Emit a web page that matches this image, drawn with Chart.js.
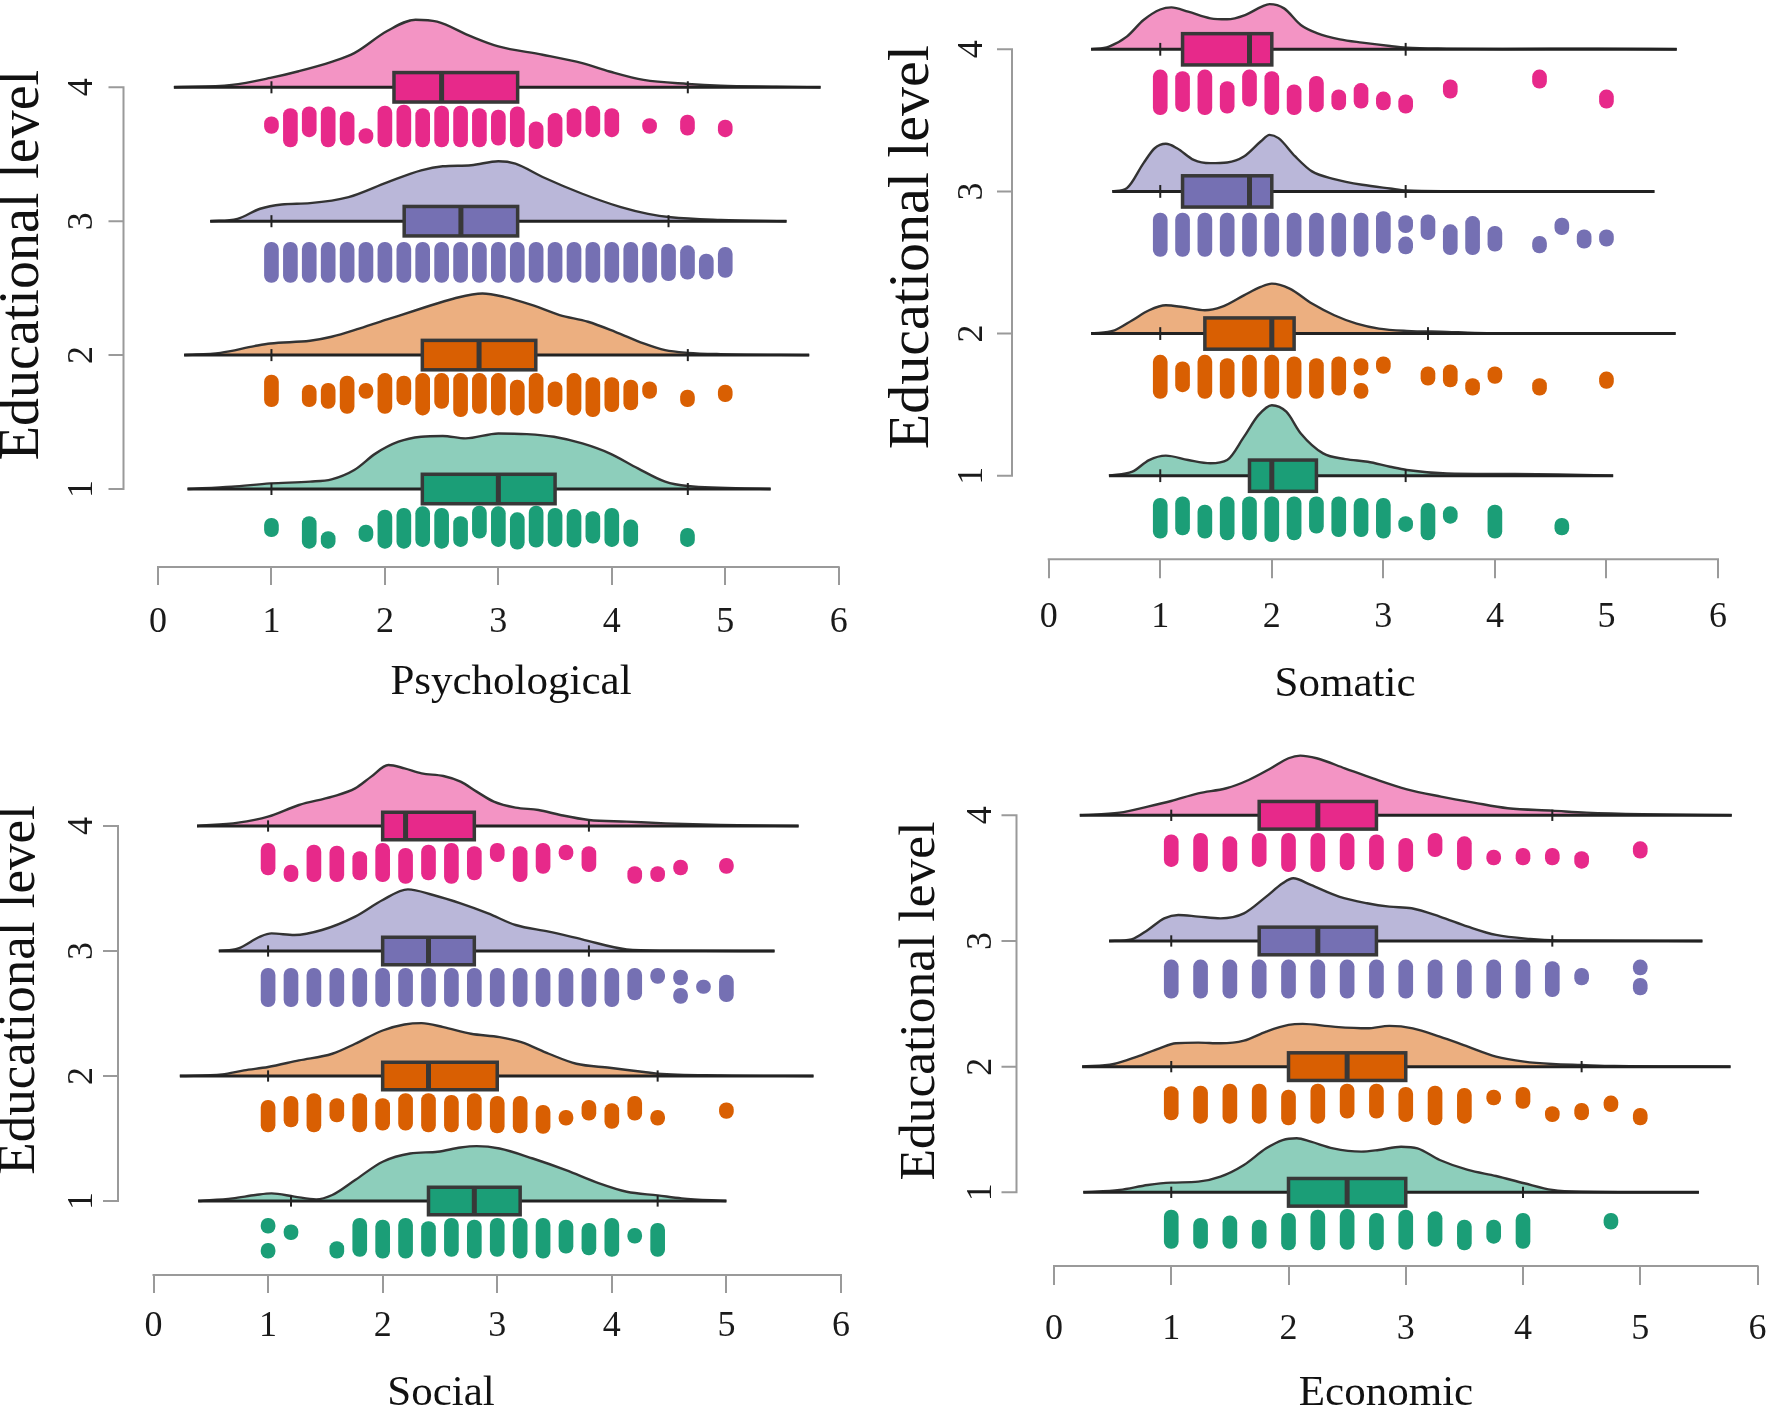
<!DOCTYPE html>
<html><head><meta charset="utf-8">
<script src="https://cdn.jsdelivr.net/npm/chart.js@4.4.1/dist/chart.umd.min.js"></script>
<style>
html,body{margin:0;padding:0;background:#fff;width:1770px;height:1417px;overflow:hidden;position:relative;}
canvas{position:absolute;left:-100px;top:-100px;pointer-events:none;}
</style></head><body>
<canvas id="c0" width="1970" height="1617"></canvas>
<canvas id="c1" width="1970" height="1617"></canvas>
<canvas id="c2" width="1970" height="1617"></canvas>
<canvas id="c3" width="1970" height="1617"></canvas>
<script>
// ---------------- DATA ----------------
const levels = [1, 2, 3, 4];
const xTickValues = [0, 1, 2, 3, 4, 5, 6];
const panelTitles = ['Psychological', 'Somatic', 'Social', 'Economic'];
const yTitle = 'Educational level';

// density curves: x positions and heights above the level baseline (level units), per level 1..4
const psychDensX = [
  [0.26,0.65,0.99,1.34,1.53,1.73,1.92,2.12,2.32,2.51,2.71,3.0,3.25,3.49,3.74,3.98,4.23,4.47,4.67,5.40],
  [0.23,0.55,0.85,0.99,1.34,1.53,1.78,2.02,2.32,2.61,2.86,3.05,3.30,3.54,3.79,4.03,4.28,4.47,4.67,4.96,5.74],
  [0.46,0.70,0.90,1.09,1.34,1.68,2.02,2.32,2.51,2.76,3.0,3.15,3.39,3.74,4.08,4.32,4.52,4.96,5.54],
  [0.14,0.65,0.99,1.24,1.53,1.73,2.02,2.27,2.46,2.76,3.0,3.39,3.74,3.98,4.28,4.67,4.96,5.45,5.84]
];
const psychDensH = [
  [0,0.017,0.042,0.055,0.072,0.142,0.266,0.353,0.39,0.396,0.378,0.415,0.41,0.39,0.34,0.266,0.154,0.055,0.022,0],
  [0,0.017,0.067,0.087,0.107,0.137,0.2,0.266,0.348,0.423,0.46,0.435,0.373,0.299,0.249,0.174,0.087,0.037,0.017,0.007,0],
  [0,0.018,0.093,0.125,0.135,0.18,0.29,0.38,0.41,0.418,0.448,0.43,0.33,0.205,0.105,0.055,0.03,0.01,0],
  [0,0.018,0.07,0.12,0.19,0.255,0.42,0.505,0.49,0.38,0.305,0.243,0.18,0.118,0.055,0.025,0.012,0.005,0]
];
// box stats: [lower whisker, Q1, median, Q3, upper whisker]
const psychBox = [[1.0,2.33,3.0,3.5,4.67],[1.0,2.33,2.83,3.33,4.67],[1.0,2.17,2.67,3.17,4.5],[1.0,2.08,2.5,3.17,4.67]];
// dot columns: [value, top offset below baseline, bottom offset below baseline]
const psychDots = [
  [[1,.219,.356],[1.333,.206,.443],[1.5,.318,.443],[1.833,.269,.393],[2,.157,.443],[2.167,.144,.443],[2.333,.132,.43],[2.5,.144,.443],[2.667,.206,.43],[2.833,.127,.368],[3,.132,.43],[3.167,.177,.45],[3.333,.127,.435],[3.5,.144,.43],[3.667,.152,.435],[3.833,.169,.405],[4,.144,.43],[4.167,.231,.43],[4.667,.294,.43]],
  [[1,.149,.386],[1.333,.224,.386],[1.5,.211,.398],[1.667,.157,.435],[1.833,.211,.323],[2,.137,.435],[2.167,.157,.373],[2.333,.137,.448],[2.5,.137,.398],[2.667,.137,.46],[2.833,.137,.435],[3,.137,.448],[3.167,.187,.448],[3.333,.137,.435],[3.5,.199,.386],[3.667,.137,.448],[3.833,.167,.46],[4,.167,.423],[4.167,.187,.41],[4.333,.199,.323],[4.667,.261,.386],[5,.224,.348]],
  [[1,.158,.458],[1.167,.158,.458],[1.333,.158,.458],[1.5,.158,.458],[1.667,.158,.458],[1.833,.158,.458],[2,.158,.458],[2.167,.158,.458],[2.333,.158,.458],[2.5,.158,.458],[2.667,.158,.458],[2.833,.158,.458],[3,.158,.458],[3.167,.158,.458],[3.333,.158,.458],[3.5,.158,.458],[3.667,.158,.458],[3.833,.158,.458],[4,.158,.458],[4.167,.158,.458],[4.333,.158,.458],[4.5,.17,.445],[4.667,.183,.433],[4.833,.245,.433],[5,.195,.42]],
  [[1,.22,.345],[1.167,.158,.445],[1.333,.145,.37],[1.5,.145,.445],[1.667,.183,.433],[1.833,.308,.42],[2,.14,.445],[2.167,.133,.445],[2.333,.158,.445],[2.5,.14,.445],[2.667,.14,.445],[2.833,.158,.445],[3,.17,.433],[3.167,.145,.445],[3.333,.258,.458],[3.5,.195,.445],[3.667,.158,.37],[3.833,.14,.37],[4,.158,.37],[4.333,.233,.345],[4.667,.208,.358],[5,.245,.37]]
];

const somaDensX = [
  [0.54,0.75,0.90,1.05,1.25,1.45,1.60,1.75,1.88,2.0,2.13,2.26,2.46,2.66,2.86,3.06,3.21,3.57,4.07,4.57,5.06],
  [0.38,0.59,0.75,0.90,1.05,1.20,1.40,1.55,1.75,1.90,2.0,2.16,2.36,2.56,2.76,2.96,3.21,3.57,3.82,4.57,5.62],
  [0.57,0.70,0.85,0.95,1.05,1.15,1.30,1.45,1.60,1.75,1.90,1.98,2.06,2.21,2.36,2.56,2.81,3.06,3.21,3.57,5.43],
  [0.38,0.54,0.70,0.85,1.0,1.10,1.25,1.45,1.60,1.76,1.91,1.98,2.11,2.26,2.41,2.61,2.81,3.06,3.21,3.57,4.07,4.93,5.63]
];
const somaDensH = [
  [0,0.028,0.11,0.141,0.11,0.087,0.11,0.273,0.426,0.496,0.45,0.297,0.157,0.117,0.098,0.063,0.04,0.016,0.012,0.009,0],
  [0,0.023,0.094,0.164,0.199,0.187,0.164,0.187,0.269,0.328,0.351,0.316,0.211,0.129,0.07,0.035,0.019,0.012,0.005,0.002,0],
  [0,0.023,0.199,0.304,0.335,0.304,0.222,0.199,0.204,0.246,0.351,0.398,0.375,0.246,0.141,0.087,0.047,0.021,0.007,0.002,0],
  [0,0.019,0.089,0.206,0.28,0.295,0.265,0.218,0.211,0.241,0.30,0.318,0.288,0.171,0.112,0.07,0.047,0.023,0.012,0.005,0.002,0.005,0]
];
const somaBox = [[1.0,1.8,2.0,2.4,3.2],[1.0,1.4,2.0,2.2,3.4],[1.0,1.2,1.8,2.0,3.2],[1.0,1.2,1.8,2.0,3.2]];
const somaDots = [
  [[1,.159,.44],[1.2,.148,.417],[1.4,.206,.44],[1.6,.148,.452],[1.8,.148,.452],[2,.148,.464],[2.2,.148,.452],[2.4,.148,.405],[2.6,.148,.429],[2.8,.159,.429],[3,.159,.44],[3.2,.288,.393],[3.4,.194,.452],[3.6,.218,.335],[4,.206,.44],[4.6,.3,.417]],
  [[1,.152,.457],[1.2,.199,.41],[1.4,.152,.457],[1.6,.176,.457],[1.8,.152,.445],[2,.152,.457],[2.2,.164,.457],[2.4,.176,.457],[2.6,.164,.433],[2.8,.176,.293],[2.8,.35,.457],[3,.164,.28],[3.4,.234,.363],[3.6,.22,.375],[3.8,.316,.433],[4,.234,.351],[4.4,.316,.433],[5,.27,.386]],
  [[1,.152,.457],[1.2,.152,.457],[1.4,.152,.457],[1.6,.152,.457],[1.8,.152,.457],[2,.152,.457],[2.2,.152,.457],[2.4,.152,.457],[2.6,.152,.457],[2.8,.152,.457],[3,.142,.435],[3.2,.17,.29],[3.2,.32,.44],[3.4,.164,.34],[3.6,.234,.445],[3.8,.176,.445],[4,.246,.42],[4.4,.316,.433],[4.6,.187,.304],[4.8,.27,.40],[5,.27,.386]],
  [[1,.145,.46],[1.2,.157,.438],[1.4,.145,.46],[1.6,.227,.45],[1.8,.145,.40],[2,.157,.46],[2.2,.25,.46],[2.4,.19,.44],[2.6,.285,.426],[2.8,.24,.415],[3,.30,.426],[3.2,.32,.45],[3.6,.215,.344],[4.4,.145,.274],[5,.286,.415]]
];

const socDensX = [
  [0.39,0.69,0.89,1.03,1.23,1.42,1.56,1.76,2.0,2.24,2.48,2.68,2.82,3.02,3.31,3.60,3.89,4.13,4.40,4.61,5.0],
  [0.23,0.60,0.79,1.0,1.27,1.56,1.76,2.0,2.19,2.34,2.53,2.77,3.02,3.21,3.45,3.69,3.98,4.28,4.40,4.95,5.76],
  [0.57,0.74,0.93,1.03,1.23,1.47,1.76,2.0,2.22,2.44,2.68,2.92,3.16,3.45,3.74,4.13,4.47,5.42],
  [0.38,0.74,1.0,1.27,1.56,1.76,1.90,2.05,2.19,2.34,2.53,2.68,2.82,2.97,3.16,3.36,3.55,3.80,4.13,4.47,4.95,5.63]
];
const socDensH = [
  [0,0.021,0.048,0.061,0.035,0.013,0.048,0.168,0.314,0.38,0.394,0.428,0.439,0.42,0.34,0.247,0.141,0.074,0.045,0.021,0],
  [0,0.013,0.045,0.072,0.125,0.178,0.258,0.364,0.412,0.423,0.391,0.338,0.311,0.271,0.178,0.098,0.066,0.032,0.019,0.005,0],
  [0,0.021,0.115,0.141,0.128,0.168,0.275,0.408,0.493,0.448,0.381,0.301,0.208,0.155,0.093,0.013,0.003,0],
  [0,0.027,0.075,0.168,0.235,0.301,0.395,0.488,0.461,0.421,0.40,0.355,0.275,0.195,0.147,0.128,0.088,0.048,0.035,0.021,0.008,0]
];
const socBox = [[1.2,2.4,2.8,3.2,4.4],[1.0,2.0,2.4,3.0,4.4],[1.0,2.0,2.4,2.8,3.8],[1.0,2.0,2.2,2.8,3.8]];
const socDots = [
  [[1,.138,.258],[1,.338,.457],[1.2,.19,.31],[1.6,.324,.457],[1.8,.138,.444],[2,.152,.457],[2.2,.138,.457],[2.4,.165,.444],[2.6,.138,.444],[2.8,.152,.457],[3,.138,.444],[3.2,.138,.457],[3.4,.138,.457],[3.6,.152,.418],[3.8,.178,.431],[4,.138,.444],[4.2,.218,.338],[4.4,.178,.444]],
  [[1,.194,.447],[1.2,.162,.407],[1.4,.141,.447],[1.6,.18,.367],[1.8,.141,.447],[2,.181,.434],[2.2,.141,.434],[2.4,.141,.447],[2.6,.154,.447],[2.8,.141,.434],[3,.162,.455],[3.2,.162,.455],[3.4,.234,.46],[3.6,.274,.394],[3.8,.194,.354],[4,.22,.42],[4.2,.162,.354],[4.4,.274,.394],[5,.215,.34]],
  [[1,.139,.445],[1.2,.139,.445],[1.4,.139,.445],[1.6,.139,.445],[1.8,.139,.445],[2,.139,.445],[2.2,.139,.445],[2.4,.139,.445],[2.6,.139,.445],[2.8,.139,.445],[3,.139,.445],[3.2,.139,.445],[3.4,.139,.445],[3.6,.139,.445],[3.8,.139,.445],[4,.139,.445],[4.2,.139,.392],[4.4,.139,.259],[4.6,.152,.272],[4.6,.299,.419],[4.8,.232,.339],[5,.192,.405]],
  [[1,.139,.392],[1.2,.312,.445],[1.4,.152,.445],[1.6,.16,.445],[1.8,.205,.432],[2,.139,.445],[2.2,.179,.459],[2.4,.152,.432],[2.6,.139,.459],[2.8,.165,.432],[3,.139,.285],[3.2,.165,.445],[3.4,.139,.379],[3.6,.152,.272],[3.8,.165,.365],[4.2,.325,.459],[4.4,.325,.445],[4.6,.272,.392],[5,.259,.379]]
];

const econDensX = [
  [0.25,0.56,0.80,1.0,1.23,1.42,1.62,1.81,1.95,2.07,2.19,2.38,2.62,2.77,2.96,3.10,3.29,3.53,3.77,4.01,4.25,4.49,5.50],
  [0.24,0.51,0.71,0.90,1.04,1.23,1.42,1.62,1.81,2.0,2.12,2.38,2.67,2.86,3.06,3.29,3.53,3.77,4.01,4.25,4.50,4.78,5.77],
  [0.47,0.66,0.80,0.94,1.06,1.23,1.42,1.62,1.81,1.95,2.04,2.19,2.43,2.67,2.86,3.05,3.29,3.53,3.77,4.06,4.30,5.53],
  [0.22,0.56,0.80,1.0,1.23,1.47,1.66,1.85,2.0,2.10,2.24,2.48,2.72,3.01,3.30,3.58,3.87,4.25,4.54,5.02,5.78]
];
const econDensH = [
  [0,0.019,0.058,0.077,0.085,0.125,0.218,0.35,0.416,0.43,0.403,0.35,0.324,0.337,0.363,0.35,0.257,0.178,0.13,0.072,0.019,0.005,0],
  [0,0.021,0.08,0.146,0.186,0.191,0.186,0.207,0.279,0.332,0.34,0.318,0.305,0.324,0.305,0.239,0.159,0.08,0.04,0.021,0.013,0.005,0],
  [0,0.013,0.088,0.18,0.207,0.194,0.18,0.22,0.353,0.459,0.499,0.446,0.353,0.30,0.273,0.26,0.194,0.114,0.048,0.016,0.005,0],
  [0,0.021,0.069,0.114,0.175,0.215,0.281,0.374,0.454,0.475,0.454,0.374,0.294,0.207,0.149,0.101,0.056,0.037,0.021,0.008,0]
];
const econBox = [[1.0,2.0,2.5,3.0,4.0],[1.0,2.0,2.5,3.0,4.5],[1.0,1.75,2.25,2.75,4.25],[1.0,1.75,2.25,2.75,4.25]];
const econDots = [
  [[1,.141,.446],[1.25,.207,.446],[1.5,.188,.446],[1.75,.22,.446],[2,.167,.459],[2.25,.141,.459],[2.5,.135,.454],[2.75,.167,.459],[3,.141,.454],[3.25,.154,.43],[3.5,.22,.459],[3.75,.22,.406],[4,.167,.446],[4.75,.167,.294]],
  [[1,.159,.424],[1.25,.154,.451],[1.5,.138,.451],[1.75,.138,.451],[2,.186,.464],[2.25,.138,.451],[2.5,.138,.411],[2.75,.138,.411],[3,.164,.438],[3.25,.154,.464],[3.5,.172,.451],[3.75,.186,.305],[4,.164,.332],[4.25,.318,.438],[4.5,.292,.424],[4.75,.233,.358],[5,.332,.464]],
  [[1,.151,.456],[1.25,.151,.456],[1.5,.151,.456],[1.75,.151,.456],[2,.151,.456],[2.25,.151,.456],[2.5,.151,.456],[2.75,.151,.456],[3,.151,.456],[3.25,.151,.456],[3.5,.151,.456],[3.75,.151,.456],[4,.151,.456],[4.25,.164,.443],[4.5,.218,.35],[5,.151,.27],[5,.297,.43]],
  [[1,.156,.408],[1.25,.143,.448],[1.5,.17,.448],[1.75,.143,.408],[2,.143,.448],[2.25,.143,.448],[2.5,.143,.435],[2.75,.156,.435],[3,.183,.448],[3.25,.143,.329],[3.5,.17,.435],[3.75,.276,.395],[4,.263,.395],[4.25,.263,.395],[4.5,.289,.422],[5,.21,.342]]
];

// ---------------- STYLE / LAYOUT ----------------
const boxColors = ['#1B9E77', '#D95F02', '#7570B3', '#E7298A'];
const fillColors = ['#8DCEBB', '#ECAF80', '#BAB7D9', '#F394C4'];
const AXIS_COLOR = '#9a9a9a';
const FONT = "'Liberation Serif', 'Times New Roman', serif";
const TICK_FONT = 36, XTITLE_FONT = 43;
const BOX_HALF = 0.11, WHISK_HALF = 0.045;
const OFF = 100, CW = 1970, CH = 1617;

const panels = [
  {canvas:'c0', title:panelTitles[0], densX:psychDensX, densH:psychDensH, box:psychBox, dots:psychDots,
   px0:158.0, unitX:113.45, py4:87.3, unitY:133.9, L:123, R:899, T:-37, B:567, axisX:123.5,
   yTitleSize:56, yTitleCX:23, yTickCX:83, xTickLen:18, xTickCY:623, xTitleCY:683},
  {canvas:'c1', title:panelTitles[1], densX:somaDensX, densH:somaDensH, box:somaBox, dots:somaDots,
   px0:1048.7, unitX:111.55, py4:49.3, unitY:142.13, L:965, R:1725, T:-65, B:559.3, axisX:1012,
   yTitleSize:58, yTitleCX:913, yTickCX:973, xTickLen:19, xTickCY:618, xTitleCY:685},
  {canvas:'c2', title:panelTitles[2], densX:socDensX, densH:socDensH, box:socBox, dots:socDots,
   px0:153.5, unitX:114.58, py4:826, unitY:125, L:36, R:846, T:705, B:1275, axisX:118,
   yTitleSize:53, yTitleCX:20, yTickCX:83, xTickLen:18, xTickCY:1327, xTitleCY:1394},
  {canvas:'c3', title:panelTitles[3], densX:econDensX, densH:econDensH, box:econBox, dots:econDots,
   px0:1054, unitX:117.25, py4:815.3, unitY:125.67, L:1009, R:1763, T:736, B:1266, axisX:1016.5,
   yTitleSize:51.5, yTitleCX:920, yTickCX:982, xTickLen:19, xTickCY:1330, xTitleCY:1394}
];

function makeRainPlugin(p, yAxisAt) {
  return {
    id: 'rain_' + p.canvas,
    afterDatasetsDraw(chart) {
      const xs = chart.scales.x, ys = chart.scales.y, ctx = chart.ctx;
      ctx.save();
      levels.forEach((lev, i) => {
        const [wlo, q1, med, q3, whi] = p.box[i];
        ctx.strokeStyle = '#222'; ctx.lineWidth = 2;
        [wlo, whi].forEach(w => {
          const px = xs.getPixelForValue(w);
          ctx.beginPath();
          ctx.moveTo(px, ys.getPixelForValue(lev + WHISK_HALF));
          ctx.lineTo(px, ys.getPixelForValue(lev - WHISK_HALF));
          ctx.stroke();
        });
        const x1 = xs.getPixelForValue(q1), x2 = xs.getPixelForValue(q3);
        const yT = ys.getPixelForValue(lev + BOX_HALF), yB = ys.getPixelForValue(lev - BOX_HALF);
        ctx.fillStyle = boxColors[i];
        ctx.fillRect(x1, yT, x2 - x1, yB - yT);
        ctx.strokeStyle = '#383838'; ctx.lineWidth = 3.5;
        ctx.strokeRect(x1, yT, x2 - x1, yB - yT);
        const xm = xs.getPixelForValue(med);
        ctx.lineWidth = 5;
        ctx.beginPath(); ctx.moveTo(xm, yT); ctx.lineTo(xm, yB); ctx.stroke();
      });
      ctx.restore();
    },
    afterDraw(chart) {
      const xs = chart.scales.x, ys = chart.scales.y, ctx = chart.ctx;
      ctx.save();
      ctx.strokeStyle = AXIS_COLOR; ctx.lineWidth = 2;
      const yb = chart.chartArea.bottom;
      ctx.beginPath();
      ctx.moveTo(xs.getPixelForValue(xTickValues[0]) - 1, yb);
      ctx.lineTo(xs.getPixelForValue(xTickValues[xTickValues.length - 1]) + 1, yb);
      ctx.stroke();
      const ax = xs.getPixelForValue(yAxisAt);
      ctx.beginPath();
      ctx.moveTo(ax, ys.getPixelForValue(levels[0]) + 1);
      ctx.lineTo(ax, ys.getPixelForValue(levels[levels.length - 1]) - 1);
      levels.forEach(l => {
        const py = ys.getPixelForValue(l);
        ctx.moveTo(ax, py); ctx.lineTo(ax - 15, py);
      });
      ctx.stroke();
      ctx.restore();
    }
  };
}

panels.forEach(p => {
  const xmin = (p.L - p.px0) / p.unitX, xmax = (p.R - p.px0) / p.unitX;
  const ymax = 4 + (p.py4 - p.T) / p.unitY, ymin = 4 - (p.B - p.py4) / p.unitY;
  const yAxisAt = (p.axisX - p.px0) / p.unitX;
  const yScaleLeft = p.yTitleCX - p.yTitleSize / 2;
  const yW = p.L - yScaleLeft;
  const xH = p.xTitleCY + XTITLE_FONT / 2 - p.B;
  const padding = {left: yScaleLeft + OFF, top: p.T + OFF, right: CW - (p.R + OFF), bottom: CH - (p.B + OFF) - xH};
  const yTickPad = p.yTickCX - p.L - TICK_FONT / 4;   // mirrored labels: center = L + pad + widest/2
  const xTickPad = p.xTickCY - p.B - p.xTickLen - TICK_FONT / 2;

  const datasets = [];
  levels.forEach((lev, i) => {
    const dx = p.densX[i], dh = p.densH[i];
    datasets.push({type:'line', data: dx.map((x, k) => ({x: x, y: lev + dh[k]})),
      fill: {value: lev}, backgroundColor: fillColors[i], borderColor: '#333', borderWidth: 2.4,
      pointRadius: 0, cubicInterpolationMode: 'monotone', order: 3});
    datasets.push({type:'line', data: [{x: dx[0], y: lev}, {x: dx[dx.length - 1], y: lev}],
      borderColor: '#222', borderWidth: 3, pointRadius: 0, fill: false, order: 2});
    datasets.push({type:'bar', data: p.dots[i].map(d => ({x: d[0], y: [lev - d[2], lev - d[1]]})),
      backgroundColor: boxColors[i], barThickness: 14, borderRadius: 7, borderSkipped: false,
      grouped: false, order: 1});
  });

  new Chart(document.getElementById(p.canvas), {
    type: 'scatter',
    data: {datasets},
    options: {
      responsive: false, animation: false, events: [],
      layout: {padding, autoPadding: false},
      plugins: {legend: {display: false}, tooltip: {enabled: false}},
      scales: {
        x: {
          type: 'linear', min: xmin, max: xmax, offset: false,
          afterBuildTicks: s => { s.ticks = xTickValues.map(v => ({value: v})); },
          afterFit: s => { s.height = xH; },
          grid: {display: true, offset: false, drawOnChartArea: false, drawTicks: true, tickLength: p.xTickLen, color: AXIS_COLOR, lineWidth: 2},
          border: {display: false},
          ticks: {autoSkip: false, maxRotation: 0, minRotation: 0, padding: xTickPad, color: '#1a1a1a',
                  font: {family: FONT, size: TICK_FONT, lineHeight: 1}, callback: v => String(v)},
          title: {display: true, text: p.title, color: '#111', padding: 0,
                  font: {family: FONT, size: XTITLE_FONT, lineHeight: 1}}
        },
        y: {
          type: 'linear', min: ymin, max: ymax, offset: false,
          afterBuildTicks: s => { s.ticks = levels.map(v => ({value: v})); },
          afterFit: s => { s.width = yW; },
          grid: {display: false, offset: false, drawTicks: false},
          border: {display: false},
          ticks: {autoSkip: false, minRotation: 90, maxRotation: 90, crossAlign: 'center', mirror: true, padding: yTickPad,
                  color: '#1a1a1a', font: {family: FONT, size: TICK_FONT, lineHeight: 1}, callback: v => String(v)},
          title: {display: true, text: yTitle, color: '#111', padding: 0,
                  font: {family: FONT, size: p.yTitleSize, lineHeight: 1}}
        }
      }
    },
    plugins: [makeRainPlugin(p, yAxisAt)]
  });
});
</script>
</body></html>
